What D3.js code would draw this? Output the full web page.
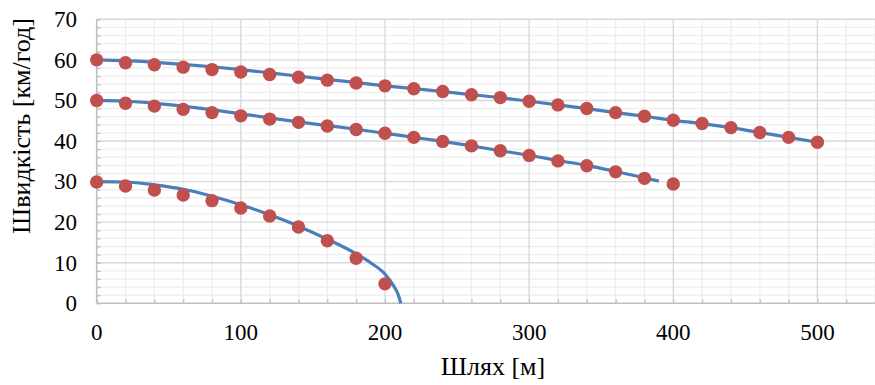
<!DOCTYPE html>
<html><head><meta charset="utf-8">
<script src="https://cdn.jsdelivr.net/npm/d3@7"></script>
<style>body{margin:0;background:#fff}svg{display:block}text{font-family:"Liberation Serif","Times New Roman",serif;fill:#000}</style>
</head><body><svg id="c" width="875" height="385"></svg>
<script>
// Measured points (distance in m, speed in km/h)
const pointS1 = [0,20,40,60,80,100,120,140,160,180,200,220,240,260,280,300,320,340,360,380,400,420,440,460,480,500];
const pointV1 = [60,59.3,58.8,58.2,57.6,57.0,56.4,55.7,55.0,54.3,53.6,52.9,52.2,51.4,50.7,49.8,48.9,48.0,47.0,46.1,45.1,44.3,43.3,42.1,40.9,39.7];
const pointS2 = [0,20,40,60,80,100,120,140,160,180,200,220,240,260,280,300,320,340,360,380,400];
const pointV2 = [50,49.3,48.6,47.8,47.0,46.2,45.4,44.6,43.7,42.85,41.9,40.9,39.9,38.8,37.6,36.45,35.1,33.9,32.4,30.8,29.4];
const pointS3 = [0,20,40,60,80,100,120,140,160,180,200];
const pointV3 = [29.9,28.9,27.9,26.7,25.3,23.5,21.5,18.8,15.4,11.1,4.8];
// Calculated curves
const curveS1 = [0,20,40,60,80,100,120,140,160,180,200,220,240,260,280,300,320,340,360,380,400,420,440,460,480,500];
const curveV1 = [60,59.8,59.4,58.9,58.3,57.6,56.8,56.0,55.2,54.4,53.6,52.9,52.2,51.4,50.7,49.8,48.9,48.0,47.0,46.1,45.1,44.3,43.3,42.1,40.9,39.7];
const curveS2 = [0,20,40,60,80,100,120,140,160,180,200,220,240,260,280,300,320,340,360,380,390];
const curveV2 = [50,49.8,49.3,48.6,47.7,46.7,45.7,44.7,43.8,42.9,41.9,40.9,39.9,38.8,37.6,36.5,35.2,34.0,32.5,30.9,30.1];
const curveS3 = [0,20,40,60,80,100,120,140,160,180,190,200,206,209,211];
const curveV3 = [30,29.9,29.2,28.1,26.4,24.3,21.8,19.0,15.8,12.2,10.0,7.2,4.3,2.3,0];
// Axis ticks
const xTicks = [0,100,200,300,400,500];
const yTicks = [0,10,20,30,40,50,60,70];
const xTitle = "Шлях [м]";
const yTitle = "Швидкість [км/год]";

const svg = d3.select("#c");
const x = d3.scaleLinear().domain([0,550]).range([96.7,889.5]);
const y = d3.scaleLinear().domain([0,70]).range([303.3,19.3]);

const grid = svg.append("g");
const minorX = d3.range(0,551,20).filter(v=>v%100!==0);
const minorY = d3.range(0,71,2).filter(v=>v%10!==0);
grid.selectAll(".mx").data(minorX).join("line")
  .attr("x1",d=>x(d)).attr("x2",d=>x(d)).attr("y1",y(0)).attr("y2",y(70))
  .attr("stroke","#efefef").attr("stroke-width",1.4);
grid.selectAll(".my").data(minorY).join("line")
  .attr("x1",x(0)).attr("x2",x(550)).attr("y1",d=>y(d)).attr("y2",d=>y(d))
  .attr("stroke","#efefef").attr("stroke-width",1.4);
grid.selectAll(".Mx").data(xTicks.filter(v=>v>0)).join("line")
  .attr("x1",d=>x(d)).attr("x2",d=>x(d)).attr("y1",y(0)).attr("y2",y(70))
  .attr("stroke","#d9d9d9").attr("stroke-width",1.4);
grid.selectAll(".My").data(yTicks.filter(v=>v>0)).join("line")
  .attr("x1",x(0)).attr("x2",x(550)).attr("y1",d=>y(d)).attr("y2",d=>y(d))
  .attr("stroke","#d9d9d9").attr("stroke-width",1.4);

// Axes
const xAxis = d3.axisBottom(x).tickValues(d3.range(0,551,20)).tickSize(-4).tickFormat("");
const yAxis = d3.axisLeft(y).tickValues(d3.range(0,71,2)).tickSize(-4).tickFormat("");
const gx = svg.append("g").attr("transform",`translate(0,${y(0)})`).call(xAxis);
const gy = svg.append("g").attr("transform",`translate(${x(0)},0)`).call(yAxis);
[gx,gy].forEach(g=>{
  g.select(".domain").attr("stroke","#bfbfbf").attr("stroke-width",1.6);
  g.selectAll(".tick line").attr("stroke","#bfbfbf").attr("stroke-width",1.3);
});
gy.select(".domain").attr("d",`M0,${y(0)}V${y(70)}`);
gx.select(".domain").attr("d",`M${x(0)},0H${x(550)}`);

svg.append("g").selectAll("text").data(xTicks).join("text")
  .attr("x",d=>x(d)).attr("y",340).attr("text-anchor","middle")
  .attr("font-size",23).text(d=>d);
svg.append("g").selectAll("text").data(yTicks).join("text")
  .attr("x",77).attr("y",d=>y(d)+7.8).attr("text-anchor","end")
  .attr("font-size",23).text(d=>d);

// Curves
const line = d3.line().x(d=>x(d[0])).y(d=>y(d[1])).curve(d3.curveMonotoneX);
const curves = [[curveS1,curveV1],[curveS2,curveV2],[curveS3,curveV3]];
svg.append("g").selectAll("path").data(curves).join("path")
  .attr("d",c=>line(c[0].map((s,i)=>[s,c[1][i]])))
  .attr("fill","none").attr("stroke","#4a7ebb").attr("stroke-width",3.2);

// Points
const pts = [[pointS1,pointV1],[pointS2,pointV2],[pointS3,pointV3]];
pts.forEach(p=>{
  svg.append("g").selectAll("circle").data(p[0].map((s,i)=>[s,p[1][i]])).join("circle")
    .attr("cx",d=>x(d[0])).attr("cy",d=>y(d[1])).attr("r",6.7)
    .attr("fill","#c0504d");
});

// Titles
svg.append("text").attr("x",493).attr("y",375).attr("text-anchor","middle")
  .attr("font-size",26).text(xTitle);
svg.append("text").attr("transform",`translate(30,126) rotate(-90)`)
  .attr("text-anchor","middle").attr("font-size",26).text(yTitle);
</script></body></html>
